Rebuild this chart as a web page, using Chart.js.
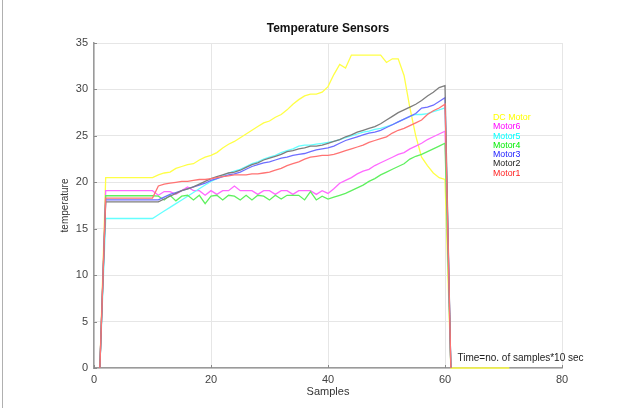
<!DOCTYPE html>
<html>
<head>
<meta charset="utf-8">
<script src="https://cdn.jsdelivr.net/npm/chart.js@4.4.1/dist/chart.umd.min.js"></script>
<style>
  html, body { margin: 0; padding: 0; background: #ffffff; }
  #wrap { position: relative; width: 623px; height: 408px; }
  canvas { display: block; }
</style>
</head>
<body>
<div id="wrap"><canvas id="c" width="623" height="408"></canvas></div>
<script>
// ---- data ----
const samples = [1,2,3,4,5,6,7,8,9,10,11,12,13,14,15,16,17,18,19,20,21,22,23,24,25,26,27,28,29,30,31,32,33,34,35,36,37,38,39,40,41,42,43,44,45,46,47,48,49,50,51,52,53,54,55,56,57,58,59,60,61,62,63,64,65,66,67,68,69,70,71];

const dcMotor = [0, 20.5,20.5,20.5,20.5,20.5,20.5,20.5,20.5,20.5,
  20.8,21.0,21.1,21.5,21.7,21.9,22.0,22.4,22.7,22.9,
  23.2,23.7,24.1,24.4,24.8,25.2,25.6,26.0,26.4,26.6,
  27.0,27.3,27.8,28.4,28.9,29.3,29.5,29.5,29.7,30.3,
  31.6,32.7,32.3,33.7,33.7,33.7,33.7,33.7,33.7,32.9,
  33.3,33.3,31.5,28.0,25.0,22.7,21.8,21.0,20.5,20.3,
  0,0,0,0,0,0,0,0,0,0,0];

const motor6 = [0, 19.1,19.1,19.1,19.1,19.1,19.1,19.1,19.1,19.1,
  18.6,19.0,19.0,18.7,19.1,19.5,19.1,19.1,18.6,19.1,
  18.7,19.1,19.1,19.6,19.1,19.1,19.1,18.7,19.1,19.1,
  18.7,19.1,19.1,18.7,19.1,19.1,19.1,18.7,19.1,18.8,
  19.3,19.9,20.2,20.5,20.9,21.2,21.4,21.8,22.1,22.4,
  22.7,23.0,23.2,23.6,23.9,24.2,24.6,24.9,25.2,25.5, 0];

const motor5 = [0, 16.1,16.1,16.1,16.1,16.1,16.1,16.1,16.1,16.1,
  16.5,16.9,17.3,17.7,18.1,18.5,18.9,19.3,19.7,20.1,
  20.4,20.7,21.0,21.2,21.4,21.7,22.0,22.2,22.5,22.7,
  22.9,23.2,23.4,23.6,23.9,24.0,24.0,24.1,24.2,24.3,
  24.4,24.6,24.8,25.0,25.2,25.4,25.5,25.7,25.8,26.0,
  26.2,26.5,26.8,27.1,27.3,27.3,27.4,27.6,27.8,28.0, 0];

const motor4 = [0, 18.55,18.55,18.55,18.55,18.55,18.55,18.55,18.55,18.55,
  18.5,18.1,18.6,18.0,18.5,18.6,18.1,18.6,17.7,18.5,
  18.6,18.1,18.6,18.5,18.1,18.6,18.1,18.6,18.5,18.1,
  18.6,18.2,18.6,18.6,18.6,18.1,19.0,18.1,18.5,18.2,
  18.4,18.6,18.8,19.1,19.4,19.7,20.1,20.4,20.8,21.1,
  21.4,21.7,22.0,22.5,22.8,23.0,23.3,23.6,23.9,24.2, 0];

const motor3 = [0, 18.1,18.1,18.1,18.1,18.1,18.1,18.1,18.1,18.1,
  18.1,18.4,18.7,18.9,19.1,19.3,19.5,19.7,19.9,20.2,
  20.4,20.6,20.8,20.9,21.1,21.4,21.7,21.9,22.1,22.2,
  22.4,22.6,22.7,22.9,23.0,23.1,23.3,23.5,23.6,23.7,
  23.9,24.2,24.5,24.7,24.9,25.1,25.3,25.4,25.6,25.9,
  26.2,26.5,26.8,27.1,27.4,28.0,28.1,28.3,28.7,29.1, 0];

const motor2 = [0, 17.9,17.9,17.9,17.9,17.9,17.9,17.9,17.9,17.9,
  17.9,18.2,18.5,18.8,19.1,19.3,19.5,19.8,20.1,20.4,
  20.6,20.8,21.0,21.1,21.3,21.6,21.9,22.1,22.4,22.6,
  22.8,23.0,23.3,23.4,23.6,23.7,23.9,23.9,24.0,24.2,
  24.4,24.6,24.9,25.1,25.4,25.6,25.8,26.0,26.3,26.7,
  27.1,27.5,27.8,28.1,28.4,28.8,29.3,29.7,30.2,30.4, 0];

const motor1 = [0, 18.3,18.3,18.3,18.3,18.3,18.3,18.3,18.3,18.3,
  19.6,19.8,19.9,20.0,20.1,20.1,20.2,20.3,20.3,20.4,
  20.5,20.6,20.7,20.8,20.8,20.8,20.9,20.9,21.0,21.1,
  21.3,21.5,21.8,22.0,22.2,22.5,22.7,22.8,22.9,22.9,
  23.0,23.2,23.4,23.6,23.8,24.0,24.3,24.5,24.7,24.9,
  25.3,25.6,25.8,26.1,26.4,26.7,27.3,27.7,28.0,28.4, 0];

const seriesNames = ['DC Motor','Motor6','Motor5','Motor4','Motor3','Motor2','Motor1'];
const seriesValues = [dcMotor, motor6, motor5, motor4, motor3, motor2, motor1];
const lineColors = ['rgb(255,255,70)','rgb(255,105,255)','rgb(100,255,255)','rgb(95,240,95)','rgb(110,110,255)','rgb(125,125,125)','rgb(255,115,115)'];
const textColors = ['#ffff00','#ff00ff','#00ffff','#00ee00','#2222ff','#222222','#ff2222'];

const titleText = 'Temperature Sensors';
const xLabel = 'Samples';
const yLabel = 'temperature';
const noteText = 'Time=no. of samples*10 sec';
const xTicks = [0,20,40,60,80];
const yTicks = [0,5,10,15,20,25,30,35];

const FONT = '"Liberation Sans", Arial, Helvetica, sans-serif';

// datasets: Motor1 listed first so it is drawn on top (plot order of reference)
const datasets = [];
for (let k = seriesNames.length - 1; k >= 0; k--) {
  const vals = seriesValues[k];
  datasets.push({
    label: seriesNames[k],
    data: vals.map((v, i) => ({ x: samples[i], y: v })),
    borderColor: lineColors[k],
    backgroundColor: lineColors[k],
    borderWidth: 1.3,
    pointRadius: 0,
    tension: 0,
    fill: false,
    clip: false
  });
}

const extras = {
  id: 'extras',
  afterDraw(chart) {
    const ctx = chart.ctx;
    const a = chart.chartArea;
    const xs = chart.scales.x, ys = chart.scales.y;
    ctx.save();
    // inward tick marks
    ctx.strokeStyle = '#8a8a8a';
    ctx.lineWidth = 1;
    ctx.beginPath();
    yTicks.forEach(t => {
      const y = Math.round(ys.getPixelForValue(t)) + 0.5;
      ctx.moveTo(a.left, y); ctx.lineTo(a.left + 3, y);
    });
    xTicks.forEach(t => {
      const x = Math.round(xs.getPixelForValue(t)) + 0.5;
      ctx.moveTo(x, a.bottom); ctx.lineTo(x, a.bottom - 3);
    });
    ctx.stroke();
    // title
    ctx.fillStyle = '#111';
    ctx.font = 'bold 12px ' + FONT;
    ctx.textAlign = 'center';
    ctx.textBaseline = 'middle';
    ctx.fillText(titleText, (a.left + a.right) / 2, 28.5);
    // legend (text only, coloured)
    ctx.font = '8.8px ' + FONT;
    ctx.textAlign = 'left';
    seriesNames.forEach((n, i) => {
      ctx.fillStyle = textColors[i];
      ctx.fillText(n, 493, 117.5 + i * 9.3);
    });
    // annotation
    ctx.fillStyle = '#222';
    ctx.font = '10px ' + FONT;
    ctx.fillText(noteText, 457.5, 358.5);
    // left frame line of the picture
    ctx.strokeStyle = '#b0b0b0';
    ctx.beginPath();
    ctx.moveTo(2.5, 0); ctx.lineTo(2.5, 408);
    ctx.stroke();
    ctx.restore();
  }
};

new Chart(document.getElementById('c'), {
  type: 'line',
  data: { datasets },
  options: {
    responsive: false,
    devicePixelRatio: 1,
    animation: false,
    layout: { padding: { top: 43, right: 61, left: 0, bottom: 0 } },
    plugins: {
      legend: { display: false },
      title: { display: false },
      tooltip: { enabled: false }
    },
    scales: {
      x: {
        type: 'linear',
        min: 0, max: 80,
        afterFit(s) { s.height = 40; },
        afterBuildTicks(s) { s.ticks = xTicks.map(v => ({ value: v })); },
        ticks: { padding: 5, color: '#444', font: { size: 11, family: FONT }, maxRotation: 0 },
        grid: { color: '#e6e6e6', drawTicks: false, lineWidth: 1 },
        border: { color: '#9a9a9a', width: 1.5 },
        title: { display: true, text: xLabel, color: '#333', font: { size: 11, family: FONT }, padding: { top: 0, bottom: 9.5 } }
      },
      y: {
        type: 'linear',
        min: 0, max: 35,
        afterFit(s) { s.width = 94; },
        afterBuildTicks(s) { s.ticks = yTicks.map(v => ({ value: v })); },
        ticks: { padding: 6, color: '#444', font: { size: 11, family: FONT } },
        grid: { color: '#e6e6e6', drawTicks: false, lineWidth: 1 },
        border: { color: '#9a9a9a', width: 1.5 },
        title: { display: true, text: yLabel, color: '#333', font: { size: 10, family: FONT }, padding: { top: 59, bottom: 0 } }
      }
    }
  },
  plugins: [extras]
});
</script>
</body>
</html>
